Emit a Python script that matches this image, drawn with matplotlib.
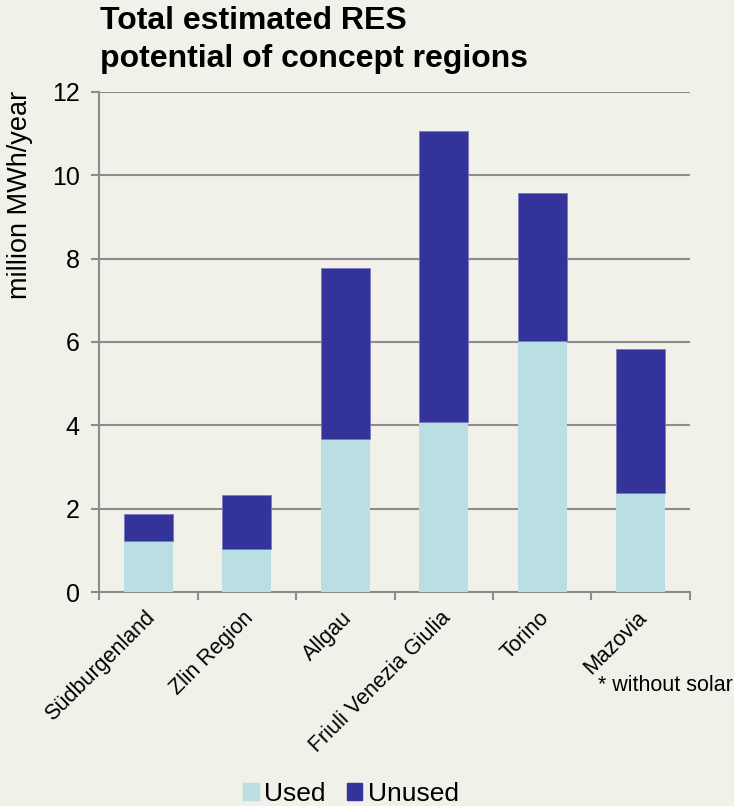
import matplotlib
matplotlib.use("Agg")
import matplotlib.pyplot as plt
from matplotlib.patches import Patch

# RES potential per concept region, million MWh/year
regions = ["Südburgenland", "Zlin Region", "Allgau", "Friuli Venezia Giulia", "Torino", "Mazovia"]
used = [1.22, 1.03, 3.66, 4.08, 6.03, 2.37]
total = [1.87, 2.33, 7.78, 11.06, 9.57, 5.83]
unused = [t - u for t, u in zip(total, used)]
y_ticks = [0, 2, 4, 6, 8, 10, 12]

BG = "#f2f1e9"
USED_COLOR = "#b9dfe2"
UNUSED_COLOR = "#343399"
GRID = "#8c8c8c"

plt.rcParams["font.family"] = ["Liberation Sans", "DejaVu Sans"]

fig = plt.figure(figsize=(7.34, 8.06), dpi=100, facecolor=BG)
ax = fig.add_axes([0.135, 0.2655, 0.805, 0.6205], facecolor=BG)

x = range(len(regions))
ax.bar(x, used, width=0.5, color=USED_COLOR, zorder=3)
ax.bar(x, unused, width=0.5, bottom=used, color=UNUSED_COLOR,
       edgecolor="#7a7ac0", linewidth=0.6, zorder=3)

ax.set_xlim(-0.5, len(regions) - 0.5)
ax.set_ylim(0, 12)
ax.set_yticks(y_ticks)
ax.set_yticklabels([str(v) for v in y_ticks], fontsize=18)
ax.yaxis.grid(True, color=GRID, linewidth=1.5, zorder=0)

# category boundaries carry the tick marks, labels sit under the bars
ax.set_xticks([i - 0.5 for i in range(len(regions) + 1)])
ax.set_xticklabels([])
ax.tick_params(axis="x", length=6, width=1.5, color=GRID)
ax.tick_params(axis="y", length=6, width=1.5, color=GRID, pad=8)
for i, name in enumerate(regions):
    ax.annotate(name, xy=(i, 0), xycoords=("data", "axes fraction"),
                xytext=(-3, -11), textcoords="offset points",
                rotation=45, rotation_mode="anchor", ha="right", va="top",
                fontsize=15.5)

for side in ("top", "right"):
    ax.spines[side].set_visible(False)
for side in ("left", "bottom"):
    ax.spines[side].set_color(GRID)
    ax.spines[side].set_linewidth(1.5)

fig.text(0.136, 0.992, "Total estimated RES\npotential of concept regions",
         fontsize=23, fontweight="bold", ha="left", va="top", linespacing=1.35)
fig.text(0.027, 0.888, "million MWh/year", rotation=90, fontsize=19.5,
         ha="center", va="top")
fig.text(0.998, 0.15, "* without solar", fontsize=15.5, ha="right", va="center")

handles = [Patch(color=USED_COLOR, label="Used"), Patch(color=UNUSED_COLOR, label="Unused")]
fig.legend(handles=handles, loc="center", bbox_to_anchor=(0.478, 0.015), ncol=2,
           frameon=False, fontsize=19, handlelength=0.6, handleheight=0.6,
           handletextpad=0.2, columnspacing=0.8, borderpad=0.2)

fig.savefig("out.png", dpi=100, facecolor=BG)
